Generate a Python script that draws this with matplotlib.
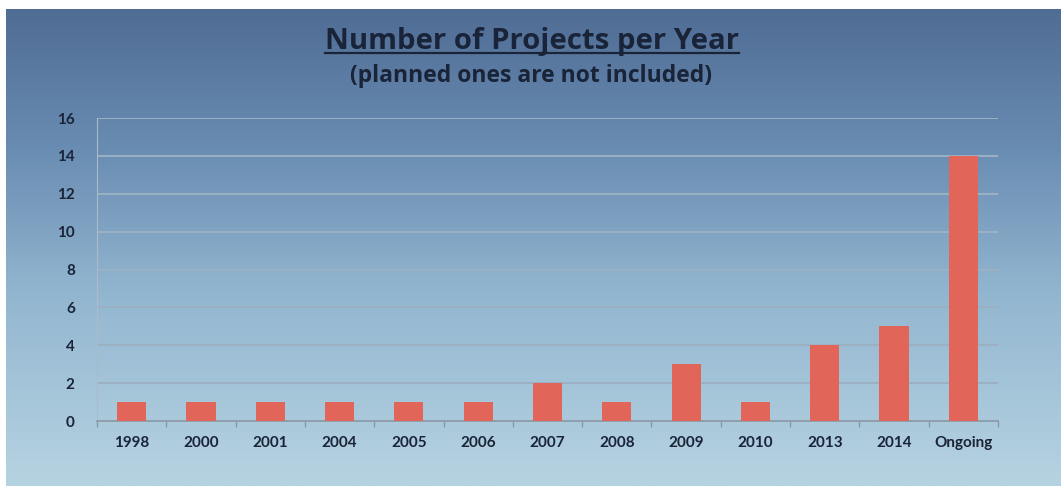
import numpy as np
import matplotlib
matplotlib.use("Agg")
import matplotlib.pyplot as plt
from matplotlib.colors import LinearSegmentedColormap

categories = ["1998", "2000", "2001", "2004", "2005", "2006", "2007",
              "2008", "2009", "2010", "2013", "2014", "Ongoing"]
projects = [1, 1, 1, 1, 1, 1, 2, 1, 3, 1, 4, 5, 14]
y_ticks = [0, 2, 4, 6, 8, 10, 12, 14, 16]

title = "Number of Projects per Year"
subtitle = "(planned ones are not included)"

plt.rcParams["font.family"] = ["Lato", "DejaVu Sans"]
text_color = "#1a2438"

W, H = 1061, 486
fig = plt.figure(figsize=(W / 100, H / 100), dpi=100)
fig.patch.set_facecolor("white")

# Slide-style vertical gradient backdrop
bg = fig.add_axes([6 / W, 0, 1 - 6 / W, 1 - 9 / H])
bg.set_axis_off()
grad_cmap = LinearSegmentedColormap.from_list(
    "slide", [(0.0, "#4f6c94"), (0.3, "#6a8db3"), (0.6, "#93b6d0"),
              (1.0, "#b6d3e1")])
grad = np.linspace(0, 1, 256).reshape(-1, 1)
bg.imshow(grad, aspect="auto", cmap=grad_cmap, extent=[0, 1, 0, 1],
          origin="upper", interpolation="bilinear")
bg.set_xlim(0, 1)
bg.set_ylim(0, 1)

# Plot area
left, right = 97 / W, 998 / W
bottom, top = 65 / H, (486 - 118) / H
ax = fig.add_axes([left, bottom, right - left, top - bottom])
ax.patch.set_alpha(0)

x = np.arange(len(categories))
ax.bar(x, projects, width=0.42, color="#e2655a", zorder=3)

ax.set_xlim(-0.5, len(categories) - 0.5)
ax.set_ylim(0, 16)
ax.set_yticks(y_ticks)
ax.set_yticklabels([str(v) for v in y_ticks], fontsize=11,
                   fontweight="bold", color=text_color)
ax.set_xticks(x)
ax.set_xticklabels(categories, fontsize=11, fontweight="bold",
                   color=text_color)
ax.tick_params(axis="x", length=0, pad=11)
ax.tick_params(axis="y", length=0, pad=16)

# Category boundary tick marks below the axis line
ax.set_xticks(np.arange(-0.5, len(categories)), minor=True)
ax.tick_params(axis="x", which="minor", length=4, width=1,
               color="#8a97a6", direction="out")

for v in y_ticks[1:]:
    ax.axhline(v, color="#9bb1c3", lw=1.4, zorder=1)

for side in ("top", "right"):
    ax.spines[side].set_visible(False)
ax.spines["left"].set_color("#a9bccc")
ax.spines["bottom"].set_color("#8a97a6")
ax.spines["bottom"].set_linewidth(1.2)

renderer = fig.canvas.get_renderer()


def fitted_text(xc, yb, s, size, target_w, **kw):
    """Place centred text and rescale its size to span target_w pixels."""
    t = fig.text(xc / W, 1 - yb / H, s, ha="center", va="baseline",
                 fontsize=size, fontweight="bold", color=text_color, **kw)
    w = t.get_window_extent(renderer=renderer).width
    t.set_fontsize(size * target_w / w)
    return t


t = fitted_text(532, 49, title, 20, 414, family=["Open Sans", "DejaVu Sans"])
fitted_text(531, 82, subtitle, 15, 362, family=["Open Sans", "DejaVu Sans"])

bb = t.get_window_extent(renderer=renderer)
uy = (H - 53) / H
fig.add_artist(plt.Line2D([bb.x0 / W, bb.x1 / W], [uy, uy],
                          transform=fig.transFigure, color=text_color, lw=1.6))

fig.savefig("out.png", dpi=100, facecolor=fig.get_facecolor())
